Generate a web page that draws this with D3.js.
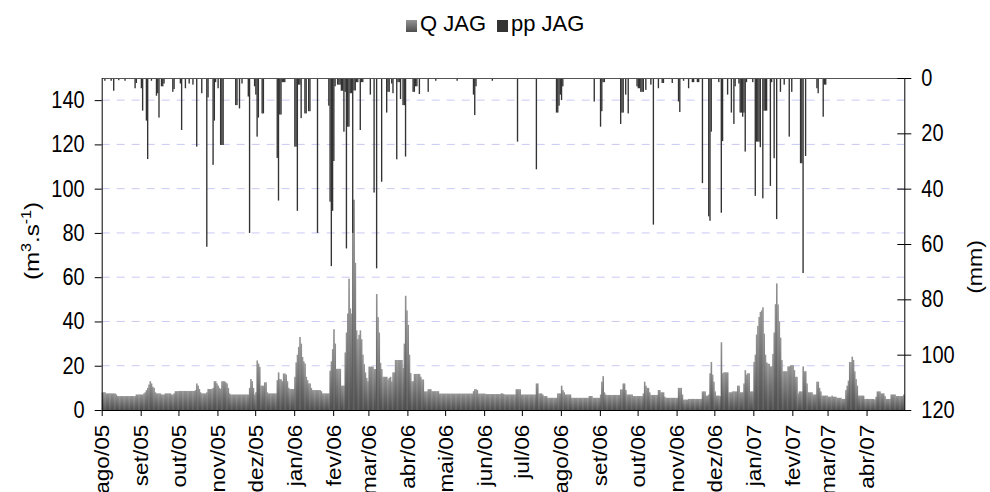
<!DOCTYPE html>
<html><head><meta charset="utf-8">
<script src="https://cdn.jsdelivr.net/npm/d3@7"></script>
<style>
body{margin:0;background:#fff;}
svg{display:block;font-family:"Liberation Sans",Arial,Helvetica,sans-serif;}
</style></head><body>
<svg id="c" width="990" height="492"></svg>
<script>
// ---- data ----
const startDate = new Date(2005, 7, 1); // 1 Aug 2005, one value per day
const monthLabels = ["ago/05","set/05","out/05","nov/05","dez/05","jan/06","fev/06","mar/06","abr/06","mai/06","jun/06",
  "jul/06","ago/06","set/06","out/06","nov/06","dez/06","jan/07","fev/07","mar/07","abr/07"];
const leftTicks = [0,20,40,60,80,100,120,140];
const rightTicks = [0,20,40,60,80,100,120];
const seriesNames = ["Q JAG","pp JAG"];

// daily discharge Q (m3/s)
const qJag = [
 8,8,8,7.5,7.5,7.5,7.5,7.5,7.5,7.5,7.5,7,6.3,6.3,6.3,6.3,6.3,6.3,6.3,6.3,6.3,6.3,6.3,6.3,6.3,6.3,6.3,7,7,7,7, // ago/05
 7,7,7.5,8,9,10,11.5,13,12,10.5,10,8,7.5,7.5,7.5,7.5,7,7,7,7.5,7.5,7.5,7.5,7.5,7,7,7.5,8.5,8.5,8.5, // set/05
 8.6,8.6,8.6,8.6,8.6,8.6,8.6,8.6,8.6,8.6,8.6,8.6,8.6,9,12,11,9.5,8,7.5,7.5,7.5,7.5,8,9.5,9.5,9.5,9.5,10,13,13,12, // out/05
 11,10,9.5,13,13,13,12.5,12,10,7.5,7,7,7,7,7,7,7,7,7,7,7,7,7,7,7,10,14,13,10,7, // nov/05
 8,22.4,21,19.5,11,11,11,12.5,12.5,8,7.5,7.5,7.5,7.5,7.5,7.5,7.5,13.5,17,14,13.8,13,16.5,16.5,16,13,10,9.5,9.5,9.5,9.5, // dez/05
 15,21.5,25,28.5,33,30,24,22,21,15,13.5,12,12,10,9,9,9,9,9,9,9,8.5,7.5,7.5,7.5,7.5,7.5,7.5,17.8,22,27.5, // jan/06
 36.5,30,18.6,18.6,18.6,18.6,11,11,11,26,35,43.6,59.3,45.9,43.6,95,95,66.5,36,32,34,36,32,25,20.7,17,14.5,13, // fev/06
 19.6,19.6,19.6,19.6,18.5,18.5,52.4,42,35,21.3,18.5,15,15,15,15,13.8,14.5,15,12.9,17,17,22.6,22.6,22.6,22.6,22.6,22.6,19,30,51.6,45, // mar/06
 38.5,25,16.7,13,13,16.3,16.3,16.3,16.3,16.3,15,13.8,13.8,8.4,8.4,8.4,9.4,9.4,9.4,8.5,8.5,8.5,8.5,8.5,8.5,7.4,7.4,7.4,7.4,7.4, // abr/06
 7.4,7.4,7.4,7.4,7.4,7.4,7.4,7.4,7.4,7.4,7.4,7.4,7.4,7.4,7.4,7.4,7.4,7.4,7.4,7.4,7.4,7.4,8.5,9.4,9.4,9,7.4,7.4,7.4,7.4,7.4, // mai/06
 7.4,7.2,7.2,7.2,7.2,7.2,7.2,7.2,7.2,7.2,7.2,7.2,7.2,7.5,7.5,7.2,7,7,7,7,7,7,7,7,7,9.4,9.4,9.4,9.4,7, // jun/06
 7,7,7,7,7,7,7,7,7,7,7,12,12,7.5,7.5,7.5,7,6.3,6.3,6.3,5.5,5.5,5.5,5.5,5.5,5.5,5.5,5.5,7.5,7.5,7.5, // jul/06
 11,9,8,7,7,7,7,7,5.5,5.5,5.5,5.5,5.5,5.5,5.5,5.5,5.5,5.5,5.5,5.5,5.5,5.5,6.3,6.3,6.3,5.5,5.5,5.5,5.5,5.5,5.5, // ago/06
 7,12.8,15.3,8,7,6.8,6.8,6.8,6.8,6.8,6.8,6.8,6.8,6.8,6.8,6.8,9.3,9.3,12,12,9,7,7,7,7,7,6.3,6.3,6.3,6.3, // set/06
 6.3,6.3,6.3,6.3,7.5,12.8,11,10,10,8,6.8,6.8,6.8,6.8,6.8,6.8,9,9,8,8,8,6,5.5,5.5,5.5,5.5,5.5,5.5,5.5,5.5,5.5, // out/06
 5.5,10,10,10,7,4.7,4.7,4.7,4.7,5,5,5,5,5,5,5,5,5,5,5,8.4,8.4,8.4,6.5,6.5,7,16.6,21.7,16,12.8, // nov/06
 8.4,6.5,6.5,6.5,6.3,30.6,16.6,17,17,17,17,8,8,8,8.4,8.4,8.4,8.4,11,11,8,8,8,12,18,16,16.6,16.6,8.4,8.4,8.4, // dez/06
 21.7,25,34.1,38,42,44.3,45,46.4,34.5,25,21.5,21,20.8,19.7,19.7,25.3,35,47.8,57.2,47.7,40,32.7,22.6,17.5,17.5,17.5,17.5,19.7,19.7,20.2,20.2, // jan/07
 20.2,18,15,15,7.5,8.4,8.4,8.4,19.7,17.5,17.5,12,8,8,8,8,7,7,7,12.8,12.8,10,8.4,6.5,6.5,6.5,6.5,6.5, // fev/07
 6,6,6,6.5,6,6,6,5.5,5.5,5.5,5.5,5,5,5,9,11,13.3,21.7,21.7,24.1,22.6,17.5,14,11,6.5,6.5,6.5,6.5,6.5,5,5, // mar/07
 5,5,5,5,5,5,4.7,6,8.4,8.4,8.4,7.5,7.5,7.5,6.3,5,5,5,5,7,7,7,7,6.3,6.3,6.3,6.3,6.3,6.3,7 // abr/07
];

// daily rainfall pp (mm)
const ppJag = [
 0,0,1,0,0,0,0,1,0,4.6,0,0,0,0.8,0,0,0,0,1,0,0,0,0,0,0,0,3.7,1.8,0,0,0, // ago/05
 3.7,11.8,0,0,15.4,29.3,0,0,1,0,0,0,6.4,5.5,14.3,0,3,3,2,0,0,0,0,0,0,5,4,0,0,0, // set/05
 0,2,18.8,0,0,3.7,0,0,2,0,0,2.4,0,0,24.8,0,0,0,5.5,0,0,0,61,7,0,0,0,31.4,15.4,1.5,0, // out/05
 3.7,0,24.2,24.2,24.2,0,0,0,0,0,0,0,0,0,9.8,9.8,0,11,0,2,0,0,0,0,6.7,56,0,0,0,3, // nov/05
 6,21.2,14.3,0,0,12.8,12.8,0,0,0,0,0,0,0,0,0,0,28.9,44.3,13.2,13.2,1.5,1.5,1.5,0,0,0,0,0,0,0, // dez/05
 24.8,24.8,48,2.4,2.4,14.5,0,0,12.8,12.8,0,12,12,0,0,0,0,0,56,0,0,0,0,0,0,0,0,10,44.7,68,48, // jan/06
 30,3,0,2.4,2.4,2.4,4.6,4.6,19.4,5,61.6,17.6,17.6,5.5,5.5,56,4.5,4.5,1.5,1.5,0,18.8,1.5,1.5,0,0,0,0, // fev/06
 0,6,0,0,41.4,0,68.8,0,0,0,37.5,0,0,0,12.5,5,5,0,2,5.5,0,0,29.4,1.5,1.5,7.6,0,9.8,9.8,28.4,0, // mar/06
 0,0,0,0,5,5,3,3,0,5.8,0,0,0,0,0,0,5,0,0,0,0,0,1,0,0,0,0,0,0,0, // abr/06
 0,0,0,0,0,0,0,0,0,1,0,0,0,0,0,0,0,0,0,0,0,0,6,13.4,3,0,0,0,0,0,0, // mai/06
 0,0,0,0,0,0,1,0,0,0,0,0,0,0,0,0,0,0,0,0,0,0,0,0,0,0,23,0,0,0, // jun/06
 0,0,0,0,0,0,0,0,0,0,0,33,0,0,0,0,0,0,0,0,0,0,0,0,0,0,0,12.5,12.5,10,6, // jul/06
 8,3,0,0,0,0,0,0,0,0,0,0,0,0,0,0,0,0,0,0,0,0,0,0,0,0,8.5,0,0,0,0, // ago/06
 17.6,12,1.5,1.5,0,0,0,0,0,0,0,0,0,0,0,0,16.6,12.5,12.5,0,6,0,12.8,0,0,0,0,0,0,3, // set/06
 3.7,3.7,5,5,5,0,4.3,0,0,0,2.4,0,53,0,0,0,3.7,0,0,1.8,1.8,0,0,0,0,0,0,1.8,0,0,0, // out/06
 0,8.5,12.3,0,0,1,0,0,0,3.7,0,0,1.5,1.5,0,0,1.5,1.5,0,0,38,0,0,0,0,50,51.6,19.4,0,0, // nov/06
 0,0,0,1.5,0,48.7,22.8,0,0,0,6,0,0,12.5,0,16.6,3,0,0,2,12.5,12.5,14,12.5,26.6,1.5,0,0,0,0,1.5, // dez/06
 0,42.6,23,23,23,25,0,43.5,11.8,11.8,11.8,0,0,39,1.5,0,29,0,51,0,0,5,0,0,2.4,0,0,0,21.2,0,5, // jan/07
 0,0,0,0,0,0,30.8,30.8,70.5,0,28.2,0,0,0,0,0,0,0,0,3.7,5.5,0,0,0,14,2.4,2.4,0, // fev/07
 0,0,0,0,0,0,0,0,0,0,0,0,0,0,0,0,0,0,0,0,0,0,0,0,0,0,0,0,0,0,0, // mar/07
 0,0,0,0,0,0,0,0,0,0,0,0,0,0,0,0,0,0,0,0,0,0,0,0,0,0,0,0,0,0 // abr/07
];

// ---- layout ----
const svg = d3.select("#c");
const L = 101.7, R = 904.3, T = 78, B = 410;
const FS = 20, SY = 1.15;
const nDays = d3.timeDay.count(startDate, new Date(2007, 4, 1));
const x = d3.scaleLinear().domain([0, nDays]).range([L, R]);
const yL = d3.scaleLinear().domain([0, 150]).range([B, T]);
const yR = d3.scaleLinear().domain([0, 120]).range([T, B]);
const bw = x(1) - x(0);
const monthIdx = monthLabels.map((_, i) => d3.timeDay.count(startDate, new Date(2005, 7 + i, 1)));

const defs = svg.append("defs");
const g1 = defs.append("linearGradient").attr("id", "qg").attr("x1", 0).attr("y1", 0).attr("x2", 0).attr("y2", 1);
g1.append("stop").attr("offset", 0).attr("stop-color", "#949494");
g1.append("stop").attr("offset", 1).attr("stop-color", "#4e4e4e");

// gridlines
svg.append("g").selectAll("line").data(leftTicks.filter(d => d > 0)).join("line")
  .attr("x1", L).attr("x2", R).attr("y1", d => yL(d)).attr("y2", d => yL(d))
  .attr("stroke", "#c9c9f4").attr("stroke-width", 1).attr("stroke-dasharray", "8,7");

// Q bars
svg.append("g").selectAll("rect").data(qJag).join("rect")
  .attr("x", (d, i) => x(i)).attr("width", bw + 0.35)
  .attr("y", d => yL(d)).attr("height", d => yL(0) - yL(d))
  .attr("fill", "url(#qg)");

// pp bars
svg.append("g").selectAll("rect").data(ppJag.map((v, i) => ({v, i})).filter(d => d.v > 0)).join("rect")
  .attr("x", d => x(d.i)).attr("width", bw + 0.1)
  .attr("y", yR(0)).attr("height", d => yR(d.v) - yR(0))
  .attr("fill", "#333333");

// top border
svg.append("line").attr("x1", L).attr("x2", R).attr("y1", T + 0.5).attr("y2", T + 0.5)
  .attr("stroke", "#555").attr("stroke-width", 1.2);

// axes
const axL = svg.append("g").attr("transform", `translate(${L},0)`)
  .call(d3.axisLeft(yL).tickValues(leftTicks).tickSize(7).tickPadding(10).tickSizeOuter(0));
const axR = svg.append("g").attr("transform", `translate(${R},0)`)
  .call(d3.axisRight(yR).tickValues(rightTicks).tickSize(7).tickPadding(10).tickSizeOuter(0));
axR.selectAll(".tick").append("line").attr("x2", -7).attr("stroke", "#000");
const axB = svg.append("g").attr("transform", `translate(0,${B})`)
  .call(d3.axisBottom(x).tickValues(monthIdx).tickFormat((d, i) => monthLabels[i]).tickSize(6).tickSizeOuter(0));

[axL, axR, axB].forEach(a => {
  a.attr("font-family", null).attr("font-size", null);
  a.selectAll("text").attr("font-size", FS).attr("fill", "#000");
  a.selectAll("line,path").attr("stroke", "#000");
});
axL.selectAll("text").attr("transform", `scale(1,${SY})`);
axR.selectAll("text").attr("transform", `scale(1,${SY})`);
axB.selectAll("text")
  .attr("text-anchor", "end").attr("x", -13).attr("y", 0).attr("dy", "0.35em")
  .attr("transform", `scale(1,1.13) rotate(-90)`);

// axis titles
const tl = svg.append("text").attr("font-size", 21).attr("text-anchor", "middle")
  .attr("transform", `translate(39,241) scale(1,${SY}) rotate(-90)`);
tl.append("tspan").text("(m");
tl.append("tspan").text("3").attr("font-size", 14).attr("dy", -8);
tl.append("tspan").text(".s").attr("dy", 8);
tl.append("tspan").text("-1").attr("font-size", 14).attr("dy", -8);
tl.append("tspan").text(")").attr("dy", 8);

svg.append("text").attr("font-size", FS).attr("text-anchor", "middle")
  .attr("transform", `translate(982,267) scale(1,${SY}) rotate(-90)`).text("(mm)");

// legend
const lg = svg.append("g");
let lx = 406;
const lcol = ["url(#qg)", "#333333"];
seriesNames.forEach((name, i) => {
  lg.append("rect").attr("x", lx).attr("y", 20).attr("width", 11).attr("height", 12).attr("fill", lcol[i]);
  const t = lg.append("text").attr("x", lx + 14).attr("y", 31).attr("font-size", 22).text(name);
  lx += 14 + t.node().getComputedTextLength() + 11;
});
</script>
</body></html>
